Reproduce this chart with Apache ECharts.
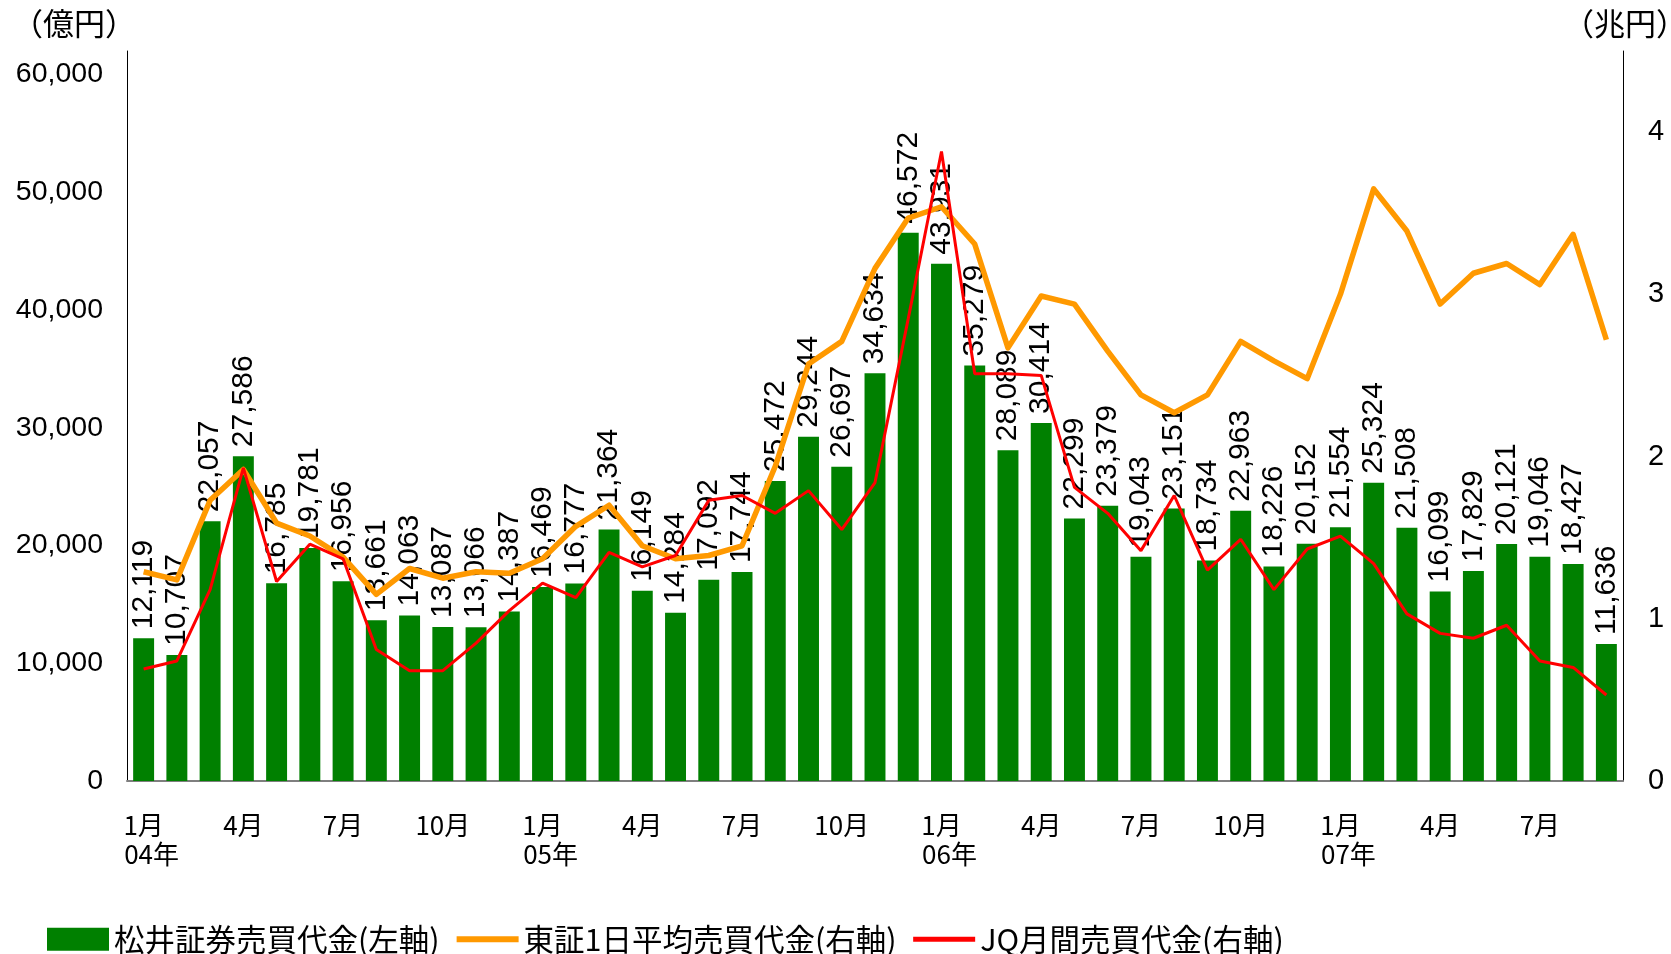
<!DOCTYPE html>
<html>
<head>
<meta charset="utf-8">
<script src="https://cdn.jsdelivr.net/npm/echarts@6/dist/echarts.min.js"></script>
<style>
html, body { margin: 0; padding: 0; background: #fff; }
#chart { width: 1671px; height: 954px; }
</style>
</head>
<body>
<div id="chart"></div>
<script>
// 月ラベル(1月だけ年を付ける)
var categories = [
    '1月\n04年', '2月', '3月', '4月', '5月', '6月', '7月', '8月', '9月', '10月', '11月', '12月',
    '1月\n05年', '2月', '3月', '4月', '5月', '6月', '7月', '8月', '9月', '10月', '11月', '12月',
    '1月\n06年', '2月', '3月', '4月', '5月', '6月', '7月', '8月', '9月', '10月', '11月', '12月',
    '1月\n07年', '2月', '3月', '4月', '5月', '6月', '7月', '8月', '9月'
];

// 松井証券売買代金(億円)
var matsuiValues = [
    12119, 10707, 22057, 27586, 16785, 19781, 16956, 13661, 14063, 13087, 13066, 14387,
    16469, 16777, 21364, 16149, 14284, 17092, 17744, 25472, 29244, 26697, 34634, 46572,
    43931, 35279, 28089, 30414, 22299, 23379, 19043, 23151, 18734, 22963, 18226, 20152,
    21554, 25324, 21508, 16099, 17829, 20121, 19046, 18427, 11636
];

// 東証1日平均売買代金(兆円)
var tseValues = [
    1.29, 1.24, 1.73, 1.92, 1.59, 1.51, 1.38, 1.15, 1.31, 1.25, 1.29, 1.28,
    1.37, 1.57, 1.70, 1.45, 1.37, 1.39, 1.45, 1.94, 2.57, 2.71, 3.16, 3.47,
    3.54, 3.31, 2.67, 2.99, 2.94, 2.65, 2.38, 2.27, 2.38, 2.71, 2.59, 2.48,
    3.00, 3.65, 3.39, 2.94, 3.13, 3.19, 3.06, 3.37, 2.72
];

// JQ月間売買代金(兆円)
var jqValues = [
    0.69, 0.74, 1.18, 1.93, 1.23, 1.46, 1.37, 0.81, 0.68, 0.68, 0.85, 1.05,
    1.22, 1.13, 1.41, 1.32, 1.39, 1.73, 1.76, 1.65, 1.79, 1.55, 1.84, 2.85,
    3.88, 2.51, 2.51, 2.50, 1.81, 1.65, 1.42, 1.76, 1.30, 1.49, 1.18, 1.43,
    1.51, 1.34, 1.03, 0.91, 0.88, 0.96, 0.74, 0.70, 0.53
];

var seriesNames = ['松井証券売買代金(左軸)', '東証1日平均売買代金(右軸)', 'JQ月間売買代金(右軸)'];

var FONT = '"Liberation Sans", Arial, "Noto Sans CJK JP", sans-serif';
var CJK = '"Noto Sans CJK JP", "Liberation Sans", sans-serif';

var myChart = echarts.init(document.getElementById('chart'));

var option = {
    animation: false,
    backgroundColor: '#fff',
    textStyle: { fontFamily: FONT, color: '#000' },
    grid: {
        left: 127,
        right: 48,
        top: 51,
        bottom: 173
    },
    graphic: [
        {
            type: 'text', left: 12, top: 8,
            style: { text: '（億円）', font: '31px ' + CJK, fill: '#000' }
        },
        {
            type: 'text', left: 1563, top: 8,
            style: { text: '（兆円）', font: '31px ' + CJK, fill: '#000' }
        }
    ],
    legend: {
        left: 47,
        top: 924,
        padding: 0,
        itemGap: 14,
        itemWidth: 62,
        itemHeight: 23,
        textStyle: { fontFamily: CJK, fontSize: 30.5, color: '#000' },
        data: [
            { name: seriesNames[0], icon: 'rect' },
            { name: seriesNames[1], itemStyle: { opacity: 0 }, lineStyle: { width: 6 } },
            { name: seriesNames[2], itemStyle: { opacity: 0 }, lineStyle: { width: 5 } }
        ]
    },
    xAxis: {
        type: 'category',
        data: categories,
        axisLine: { lineStyle: { color: '#7f7f7f', width: 2 } },
        axisTick: { show: false },
        axisLabel: {
            interval: 2,
            margin: 30,
            color: '#000',
            fontFamily: CJK,
            fontSize: 26,
            lineHeight: 29,
            formatter: function (value) {
                var parts = value.split('\n');
                if (parts.length > 1) {
                    return '{m|' + parts[0] + '}\n{y|' + parts[1] + '}';
                }
                return '{m|' + parts[0] + '}';
            },
            rich: {
                m: { fontFamily: CJK, fontSize: 26, lineHeight: 29, color: '#000' },
                y: { fontFamily: CJK, fontSize: 26, lineHeight: 29, color: '#000', padding: [0, 0, 0, 16] }
            }
        }
    },
    yAxis: [
        {
            type: 'value',
            min: 0,
            max: 62000,
            interval: 10000,
            splitLine: { show: false },
            axisLine: { show: true, lineStyle: { color: '#000', width: 1 } },
            axisTick: { show: false },
            axisLabel: {
                margin: 24,
                color: '#000',
                fontSize: 28.5,
                showMaxLabel: false
            }
        },
        {
            type: 'value',
            min: 0,
            max: 4.5,
            interval: 1,
            splitLine: { show: false },
            axisLine: { show: true, lineStyle: { color: '#000', width: 1 } },
            axisTick: { show: false },
            axisLabel: {
                margin: 25,
                color: '#000',
                fontSize: 29,
                showMaxLabel: false
            }
        }
    ],
    series: [
        {
            name: seriesNames[0],
            type: 'bar',
            yAxisIndex: 0,
            data: matsuiValues,
            barCategoryGap: '37%',
            itemStyle: { color: '#008000' },
            label: {
                show: true,
                position: 'top',
                rotate: 90,
                align: 'left',
                verticalAlign: 'middle',
                distance: 9,
                color: '#000',
                fontSize: 30,
                fontFamily: FONT,
                formatter: function (p) {
                    return echarts.format.addCommas(p.value);
                }
            }
        },
        {
            name: seriesNames[1],
            type: 'line',
            yAxisIndex: 1,
            data: tseValues,
            symbol: 'none',
            z: 3,
            lineStyle: { color: '#FF9900', width: 5.5, join: 'round' },
            itemStyle: { color: '#FF9900' }
        },
        {
            name: seriesNames[2],
            type: 'line',
            yAxisIndex: 1,
            data: jqValues,
            symbol: 'none',
            z: 4,
            lineStyle: { color: '#FF0000', width: 3 },
            itemStyle: { color: '#FF0000' }
        }
    ]
};

myChart.setOption(option);
</script>
</body>
</html>
